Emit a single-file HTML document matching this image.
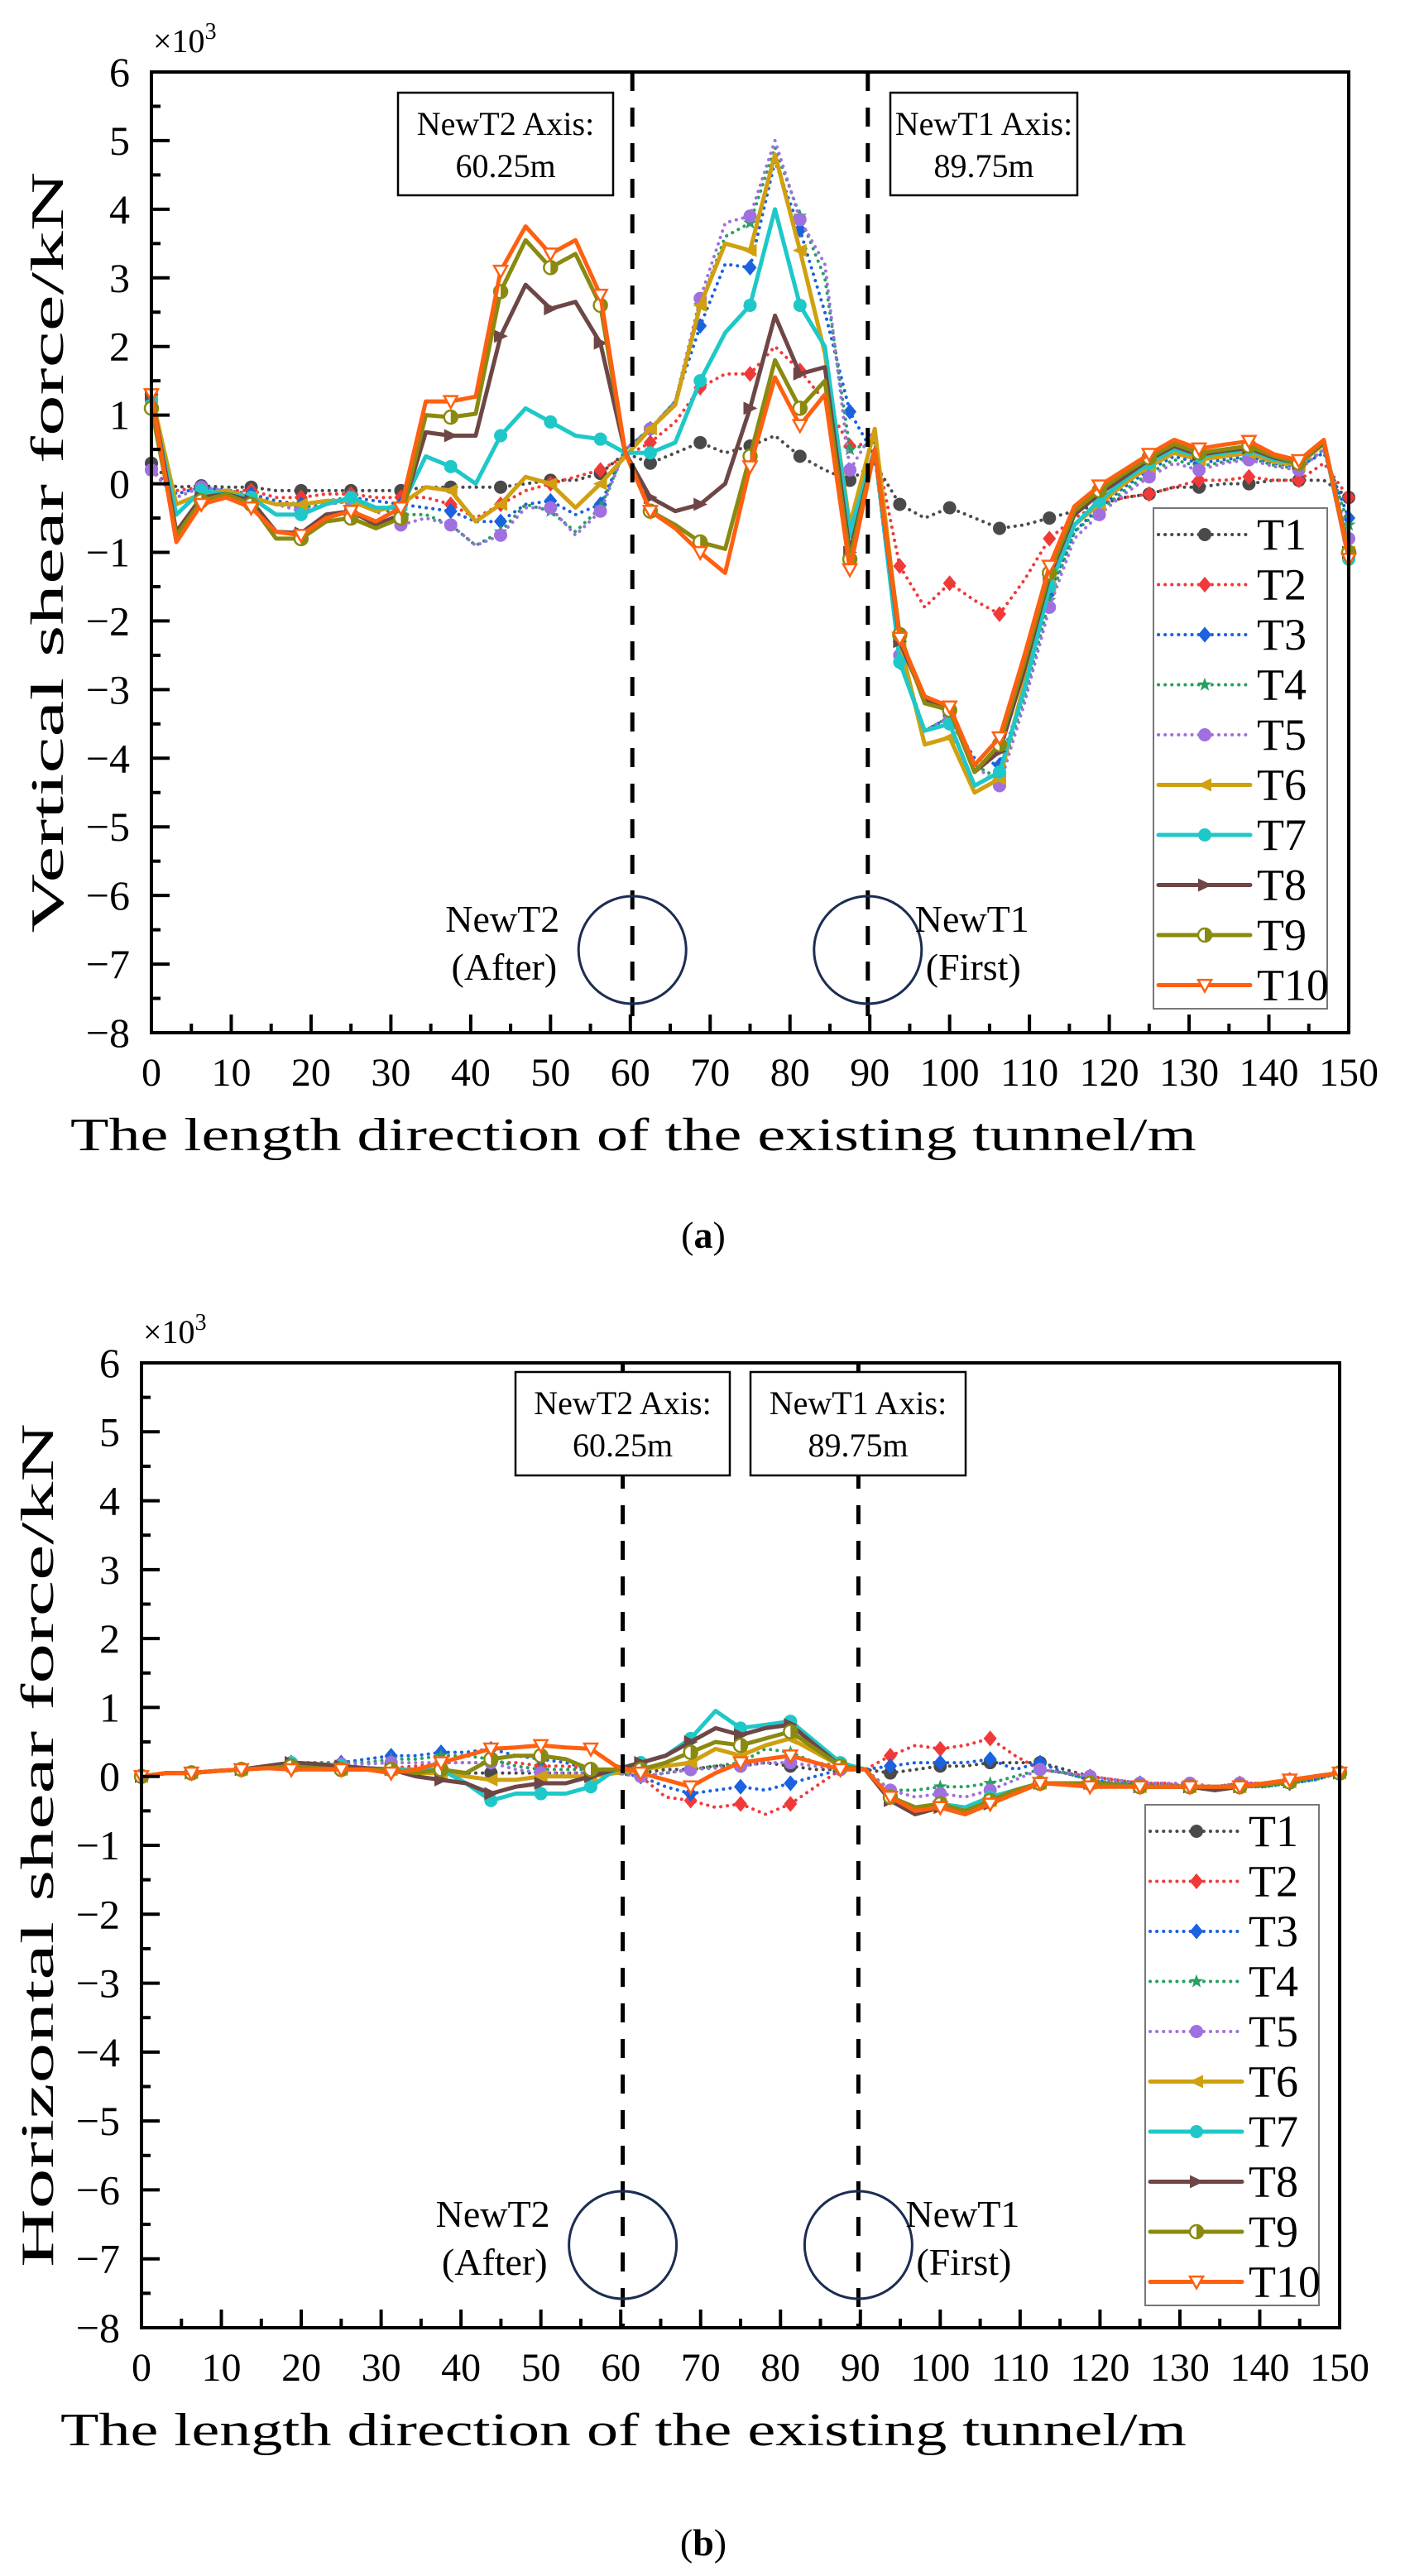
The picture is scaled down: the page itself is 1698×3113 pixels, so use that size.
<!DOCTYPE html>
<html><head><meta charset="utf-8"><style>
html,body{margin:0;padding:0;background:#fff;}
svg{display:block;font-family:"Liberation Serif",serif;}
</style></head><body>
<svg id="fig" width="1698" height="3113" viewBox="0 0 1698 3113" xmlns="http://www.w3.org/2000/svg"></svg>
<script>
// ---------- data (x10^3 kN) ----------
const xStep = 3.125;
const xTicks = [0,10,20,30,40,50,60,70,80,90,100,110,120,130,140,150];
const yTicks = [6,5,4,3,2,1,0,-1,-2,-3,-4,-5,-6,-7,-8];
const seriesNames = ["T1","T2","T3","T4","T5","T6","T7","T8","T9","T10"];

const vT1 = [0.3,-0.05,-0.03,-0.05,-0.05,-0.1,-0.1,-0.1,-0.1,-0.1,-0.1,-0.05,-0.05,-0.05,-0.05,0,0.05,0.05,0.15, 0.45,0.3,0.45,0.6,0.45,0.55,0.7,0.4,0.2,0.05,0.3, -0.3,-0.5,-0.35,-0.5,-0.65,-0.6,-0.5,-0.4,-0.3,-0.2,-0.15,-0.05,-0.05,0,0,0.05,0.05,0.05,-0.2];
const vT2 = [0.2,-0.1,-0.05,-0.1,-0.1,-0.2,-0.2,-0.15,-0.15,-0.2,-0.2, -0.2,-0.3,-0.5,-0.3,-0.1,0,0.1,0.2, 0.4,0.6,0.9,1.4,1.6,1.6,2.0,1.65,1.2,0.55,0.6, -1.2,-1.8,-1.45,-1.7,-1.9,-1.4,-0.8,-0.5,-0.3,-0.2,-0.15,-0.05,0.05,0.05,0.1,0.05,0.05,0.3,-0.2];
const vT3 = [0.2,-0.15,-0.05,-0.1,-0.15,-0.25,-0.3,-0.25,-0.2,-0.25,-0.3, -0.35,-0.4,-0.55,-0.55,-0.3,-0.25,-0.45,-0.3, 0.5,0.8,1.2,2.3,3.2,3.15,4.7,3.7,2.5,1.05,0.4, -2.6,-3.6,-3.4,-4.0,-4.1,-3.0,-1.6,-0.7,-0.35,-0.05,0.2,0.4,0.3,0.35,0.4,0.3,0.25,0.45,-0.5];
const vT4 = [0.2,-0.2,-0.05,-0.1,-0.2,-0.3,-0.35,-0.3,-0.25,-0.35,-0.45, -0.45,-0.6,-0.9,-0.7,-0.3,-0.4,-0.7,-0.35, 0.5,0.8,1.2,2.6,3.6,3.8,4.9,3.9,3.0,0.5,0.6, -2.5,-3.6,-3.4,-4.1,-4.3,-3.1,-1.7,-0.7,-0.4,-0.1,0.15,0.35,0.25,0.32,0.38,0.27,0.22,0.5,-0.6];
const vT5 = [0.2,-0.2,-0.05,-0.1,-0.2,-0.3,-0.4,-0.3,-0.25,-0.4,-0.6, -0.5,-0.6,-0.9,-0.75,-0.35,-0.35,-0.75,-0.4, 0.5,0.8,1.2,2.7,3.8,3.9,5.0,3.85,3.2,0.2,0.8, -2.5,-3.6,-3.4,-4.1,-4.4,-3.2,-1.8,-0.8,-0.45,-0.15,0.1,0.3,0.2,0.3,0.35,0.25,0.2,0.5,-0.8];
const vT6 = [1.3,-0.3,-0.15,-0.1,-0.2,-0.3,-0.3,-0.25,-0.25,-0.4,-0.3, -0.05,-0.1,-0.55,-0.3,0.1,0,-0.35,0, 0.4,0.8,1.15,2.6,3.5,3.4,4.8,3.4,1.9,-0.6,0.8, -2.3,-3.8,-3.7,-4.5,-4.3,-2.9,-1.5,-0.6,-0.3,0.0,0.25,0.45,0.35,0.4,0.45,0.32,0.28,0.58,-1.0];
const vT7 = [1.2,-0.45,-0.1,-0.15,-0.2,-0.45,-0.45,-0.3,-0.2,-0.35,-0.35, 0.4,0.25,0,0.7,1.1,0.9,0.7,0.65, 0.45,0.45,0.6,1.5,2.2,2.6,4.0,2.6,2.0,-0.7,0.5, -2.6,-3.6,-3.5,-4.4,-4.2,-3.0,-1.5,-0.6,-0.25,0.05,0.3,0.5,0.4,0.45,0.5,0.35,0.3,0.6,-1.1];
const vT8 = [1.3,-0.7,-0.2,-0.15,-0.25,-0.7,-0.72,-0.45,-0.4,-0.6,-0.45, 0.75,0.7,0.7,2.15,2.9,2.55,2.65,2.05, 0.45,-0.2,-0.4,-0.3,0,1.1,2.45,1.6,1.7,-1.0,0.5, -2.3,-3.15,-3.3,-4.2,-3.9,-2.7,-1.35,-0.45,-0.15,0.1,0.35,0.55,0.42,0.48,0.52,0.38,0.3,0.6,-1.0];
const vT9 = [1.1,-0.75,-0.25,-0.15,-0.3,-0.8,-0.8,-0.55,-0.5,-0.65,-0.5, 1.0,0.97,1.02,2.8,3.55,3.15,3.35,2.6, 0.45,-0.4,-0.6,-0.85,-0.95,0.4,1.8,1.1,1.5,-1.1,0.5, -2.2,-3.2,-3.3,-4.2,-3.8,-2.6,-1.3,-0.4,-0.1,0.15,0.38,0.58,0.45,0.5,0.55,0.4,0.3,0.62,-1.0];
const vT10 = [1.3,-0.85,-0.3,-0.2,-0.35,-0.7,-0.75,-0.5,-0.4,-0.55,-0.35, 1.2,1.2,1.27,3.1,3.75,3.35,3.55,2.75, 0.45,-0.4,-0.65,-1.0,-1.3,0.25,1.55,0.85,1.3,-1.25,0.5, -2.25,-3.1,-3.25,-4.1,-3.7,-2.5,-1.2,-0.33,-0.03,0.2,0.43,0.64,0.51,0.57,0.62,0.43,0.34,0.64,-1.1];

const hT1 = [0,0.05,0.05,0.08,0.1,0.12,0.15,0.12,0.1,0.1,0.1,0.05,0.05,0.05,0.05,0.05,0.05,0.05,0.05, 0.05,0.05,0.1,0.1,0.15,0.15,0.2,0.15,0.1,0.1,0.1, 0.05,0.1,0.15,0.15,0.2,0.2,0.2,0.1,0,-0.05,-0.1,-0.1,-0.15,-0.15,-0.1,-0.1,-0.05,0,0.05];
const hT2 = [0,0.05,0.05,0.08,0.1,0.12,0.15,0.12,0.1,0.1,0.12,0.15,0.2,0.2,0.2,0.2,0.15,0.15,0.1, 0.05,0,-0.3,-0.35,-0.45,-0.4,-0.55,-0.4,-0.15,0.1,0.1, 0.3,0.45,0.4,0.45,0.55,0.3,0.1,0.05,0,-0.05,-0.1,-0.1,-0.15,-0.15,-0.1,-0.1,-0.05,0,0.05];
const hT3 = [0,0.05,0.05,0.08,0.1,0.15,0.2,0.2,0.2,0.25,0.3,0.3,0.35,0.35,0.4,0.3,0.25,0.2,0.1, 0.05,0,-0.15,-0.25,-0.2,-0.15,-0.2,-0.1,0,0.1,0.1, 0.15,0.2,0.2,0.2,0.25,0.1,0.2,0.05,-0.05,-0.1,-0.1,-0.15,-0.15,-0.2,-0.15,-0.15,-0.1,-0.05,0.05];
const hT4 = [0,0.05,0.05,0.08,0.1,0.15,0.2,0.2,0.2,0.2,0.25,0.25,0.3,0.3,0.25,0.15,0.1,0.1,0.1, 0.05,0,0.05,0.1,0.15,0.2,0.4,0.35,0.2,0.15,0.1, -0.2,-0.2,-0.15,-0.15,-0.1,0,0.1,0.05,-0.05,-0.1,-0.1,-0.15,-0.15,-0.2,-0.15,-0.15,-0.1,-0.05,0.05];
const hT5 = [0,0.05,0.05,0.08,0.1,0.15,0.18,0.18,0.18,0.18,0.2,0.2,0.2,0.2,0.2,0.1,0.05,0.05,0.05, 0.05,0,0.05,0.1,0.12,0.15,0.2,0.2,0.15,0.1,0.1, -0.2,-0.3,-0.25,-0.3,-0.2,-0.05,0.1,0.05,0,-0.05,-0.1,-0.1,-0.1,-0.15,-0.1,-0.1,-0.05,0,0.05];
const hT6 = [0,0.05,0.05,0.08,0.1,0.12,0.15,0.12,0.1,0.1,0.1,0.05,0.05,0,-0.05,-0.05,0,0,0, 0.05,0.1,0.15,0.2,0.4,0.3,0.45,0.55,0.35,0.15,0.1, -0.3,-0.45,-0.4,-0.5,-0.35,-0.25,-0.1,-0.1,-0.1,-0.12,-0.15,-0.15,-0.15,-0.15,-0.15,-0.12,-0.08,0,0.05];
const hT7 = [0,0.05,0.05,0.08,0.1,0.15,0.2,0.18,0.15,0.12,0.1,0.1,0.1,-0.1,-0.35,-0.25,-0.25,-0.25,-0.15, 0.1,0.2,0.3,0.55,0.95,0.7,0.75,0.8,0.5,0.2,0.1, -0.3,-0.45,-0.4,-0.45,-0.3,-0.2,-0.1,-0.1,-0.1,-0.12,-0.15,-0.15,-0.15,-0.2,-0.15,-0.12,-0.08,0,0.05];
const hT8 = [0,0.05,0.05,0.08,0.1,0.15,0.2,0.18,0.15,0.12,0.1,0,-0.05,-0.1,-0.25,-0.15,-0.1,-0.1,0, 0.1,0.2,0.3,0.5,0.7,0.6,0.7,0.75,0.45,0.15,0.1, -0.35,-0.55,-0.45,-0.55,-0.4,-0.2,-0.1,-0.1,-0.1,-0.12,-0.15,-0.15,-0.15,-0.2,-0.15,-0.12,-0.08,0,0.05];
const hT9 = [0,0.05,0.05,0.08,0.1,0.12,0.15,0.12,0.1,0.1,0.1,0.05,0.1,0.05,0.25,0.3,0.3,0.25,0.1, 0.1,0.1,0.2,0.35,0.5,0.45,0.55,0.65,0.4,0.15,0.1, -0.3,-0.45,-0.4,-0.5,-0.35,-0.2,-0.1,-0.1,-0.1,-0.12,-0.15,-0.15,-0.15,-0.15,-0.15,-0.12,-0.08,0,0.05];
const hT10 = [0,0.05,0.05,0.08,0.1,0.12,0.1,0.1,0.1,0.1,0.05,0.1,0.2,0.3,0.4,0.42,0.45,0.42,0.4, 0.15,0.05,-0.05,-0.15,0.05,0.2,0.25,0.3,0.2,0.1,0.1, -0.3,-0.5,-0.45,-0.55,-0.4,-0.25,-0.1,-0.12,-0.15,-0.15,-0.15,-0.15,-0.15,-0.15,-0.15,-0.1,-0.05,0,0.05];

const verticalData = [vT1,vT2,vT3,vT4,vT5,vT6,vT7,vT8,vT9,vT10];
const horizontalData = [hT1,hT2,hT3,hT4,hT5,hT6,hT7,hT8,hT9,hT10];

// ---------- styles ----------
const colors = ["#4a4a4a","#f03a3a","#1a62e0","#27a060","#a070e0","#d0a010","#1fc8c8","#6e4646","#8a8a10","#ff6010"];
const markers = ["circle","diamond","diamond","star","circle","tri-left","circle","tri-right","half","tri-down"];
const dotted = [true,true,true,true,true,false,false,false,false,false];

const NS = "http://www.w3.org/2000/svg";
const svg = document.getElementById("fig");
function mk(tag, attrs, parent, text){
  const e = document.createElementNS(NS, tag);
  for (const k in attrs) e.setAttribute(k, attrs[k]);
  if (text !== undefined) e.textContent = text;
  (parent||svg).appendChild(e);
  return e;
}

function drawMarker(g, type, cx, cy, color, r){
  let e;
  if (type==="circle"){ e = mk("circle",{cx:cx,cy:cy,r:r,fill:color},g); }
  else if (type==="diamond"){ e = mk("polygon",{points:`${cx},${cy-r*1.2} ${cx+r},${cy} ${cx},${cy+r*1.2} ${cx-r},${cy}`,fill:color},g); }
  else if (type==="star"){
    let p=[]; for(let k=0;k<10;k++){const a=-Math.PI/2+k*Math.PI/5; const rr=k%2?r*0.45:r*1.1; p.push((cx+rr*Math.cos(a)).toFixed(1)+","+(cy+rr*Math.sin(a)).toFixed(1));}
    e = mk("polygon",{points:p.join(" "),fill:color},g);
  }
  else if (type==="tri-left"){ e = mk("polygon",{points:`${cx-r*1.1},${cy} ${cx+r},${cy-r} ${cx+r},${cy+r}`,fill:color},g); }
  else if (type==="tri-right"){ e = mk("polygon",{points:`${cx+r*1.1},${cy} ${cx-r},${cy-r} ${cx-r},${cy+r}`,fill:color},g); }
  else if (type==="half"){
    e = mk("circle",{cx:cx,cy:cy,r:r,fill:"#fff",stroke:color,"stroke-width":2.5},g);
    mk("path",{d:`M${cx},${cy-r} A${r},${r} 0 0 1 ${cx},${cy+r} Z`,fill:color},g);
  }
  else if (type==="tri-down"){ e = mk("polygon",{points:`${cx-r},${cy-r*0.8} ${cx+r},${cy-r*0.8} ${cx},${cy+r}`,fill:"#fff",stroke:color,"stroke-width":2.5},g); }
  return e;
}

// scale a text element horizontally (in its own frame) to a target length
function fitText(el, target){
  const w = el.getComputedTextLength();
  return w > 0 ? target / w : 1;
}

function drawChart(cfg){
  const {L,T,R,B,data,ytitle,tag} = cfg;
  const xs = v => L + (v-0)/(150-0)*(R-L);
  const ys = v => T + (6-v)/(6-(-8))*(B-T);
  const chart = mk("g",{});
  
  

  const sg = mk("g",{},chart);
  
  
  data.forEach((vals,si)=>{
    const g = mk("g",{},sg);
    
    
    const pts = vals.map((v,i)=>xs(i*xStep).toFixed(1)+","+ys(v).toFixed(1)).join(" ");
    const line = mk("polyline",{points:pts,fill:"none",stroke:colors[si],"stroke-width":dotted[si]?4:5,"stroke-linejoin":"round","stroke-linecap":"round","stroke-dasharray":dotted[si]?"0.1 8":"none"},g);
    
    
    vals.forEach((v,i)=>{
      if (i%2!==0) return;
      const m = drawMarker(g, markers[si], xs(i*xStep), ys(v), colors[si], 8);
      
      
    });
  });

  const frame = mk("rect",{x:L,y:T,width:R-L,height:B-T,fill:"none",stroke:"#000","stroke-width":4},chart);
  
  

  const xg = mk("g",{},chart);
  
  
  for (let v=0; v<=150; v+=5){
    const major = v%10===0;
    mk("line",{x1:xs(v),x2:xs(v),y1:B,y2:B-(major?22:11),stroke:"#000","stroke-width":4},xg);
  }
  xTicks.forEach(v=>{
    const t = mk("text",{x:xs(v),y:B+64,"text-anchor":"middle","font-size":48},xg,String(v));
    
    
  });
  const xt = mk("text",{x:0,y:0,"font-size":56},xg,"The length direction of the existing tunnel/m");
  
  
  const sx = fitText(xt, 1361);
  xt.setAttribute("transform", `translate(${L-98},${B+142}) scale(${sx},1)`);

  const yg = mk("g",{},chart);
  
  
  for (let v=-8; v<=6; v+=0.5){
    const major = Math.abs(v%1)<1e-9;
    mk("line",{x1:L,x2:L+(major?22:11),y1:ys(v),y2:ys(v),stroke:"#000","stroke-width":4},yg);
  }
  yTicks.forEach(v=>{
    const t = mk("text",{x:L-26,y:ys(v)+17,"text-anchor":"end","font-size":50},yg,v<0?"\u2212"+Math.abs(v):String(v));
    
    
  });
  const ex = mk("text",{x:L+2,y:T-24,"font-size":40},yg);
  
  
  mk("tspan",{},ex,"\u00d710");
  mk("tspan",{dy:-16,"font-size":28},ex,"3");
  const cy = (T+B)/2 + cfg.ytOff;
  const yt = mk("text",{x:0,y:0,"text-anchor":"middle","font-size":56},yg,ytitle);
  
  
  const sy = fitText(yt, cfg.ytLen);
  yt.setAttribute("transform", `translate(${cfg.ytX},${cy}) rotate(-90) scale(${sy},1)`);

  [60.25,89.75].forEach((m,k)=>{
    const d = mk("line",{x1:xs(m),x2:xs(m),y1:T,y2:B,stroke:"#000","stroke-width":5,"stroke-dasharray":"23 20"},chart);
    
    
  });

  cfg.boxes.forEach(b=>{
    const g = mk("g",{},chart);
    
    
    mk("rect",{x:b.x1,y:b.y1,width:b.x2-b.x1,height:b.y2-b.y1,fill:"#fff",stroke:"#000","stroke-width":2.5},g);
    const cx=(b.x1+b.x2)/2;
    mk("text",{x:cx,y:b.y1+51,"text-anchor":"middle","font-size":40},g,b.l1);
    mk("text",{x:cx,y:b.y1+102,"text-anchor":"middle","font-size":40},g,b.l2);
  });

  const ccy = B-100;
  [[60.25,"NewT2","(After)","end",-88],[89.75,"NewT1","(First)","start",57]].forEach(([m,a,b,anc,off])=>{
    const g = mk("g",{},chart);
    
    
    mk("ellipse",{cx:xs(m),cy:ccy,rx:65,ry:65,fill:"none",stroke:"#1c2d52","stroke-width":3},g);
    mk("text",{x:xs(m)+off,y:ccy-22,"text-anchor":anc,"font-size":46},g,a);
    mk("text",{x:xs(m)+off+(anc==="start"?13:-3),y:ccy+36,"text-anchor":anc,"font-size":46},g,b);
  });

  const lg = mk("g",{},chart);
  
  
  const lx=cfg.legX, ly=cfg.legY;
  mk("rect",{x:lx,y:ly,width:210,height:605,fill:"#fff",stroke:"#777","stroke-width":2},lg);
  seriesNames.forEach((n,si)=>{
    const e = mk("g",{},lg);
    
    
    const y = ly+32+si*60.5;
    mk("line",{x1:lx+6,x2:lx+117,y1:y,y2:y,stroke:colors[si],"stroke-width":dotted[si]?4:5,"stroke-linecap":"round","stroke-dasharray":dotted[si]?"0.1 8":"none"},e);
    drawMarker(e, markers[si], lx+62, y, colors[si], 8);
    mk("text",{x:lx+125,y:y+18,"font-size":54},e,n);
  });

  const cap = mk("text",{x:850,y:cfg.capY,"text-anchor":"middle","font-size":46},chart);
  
  
  mk("tspan",{},cap,"(");
  mk("tspan",{"font-weight":"bold"},cap,tag);
  mk("tspan",{},cap,")");
}

drawChart({L:183,T:87,R:1630,B:1248,data:verticalData,ytitle:"Vertical shear force/kN",tag:"a",ytX:76,ytOff:0,ytLen:920,
  legX:1394,legY:614,capY:1508,
  boxes:[{name:"newt2-axis-label",x1:481,x2:741,y1:112,y2:236,l1:"NewT2 Axis:",l2:"60.25m"},
         {name:"newt1-axis-label",x1:1076,x2:1302,y1:112,y2:236,l1:"NewT1 Axis:",l2:"89.75m"}]});
drawChart({L:171,T:1647,R:1619,B:2813,data:horizontalData,ytitle:"Horizontal shear force/kN",tag:"b",ytX:64,ytOff:0,ytLen:1020,
  legX:1384,legY:2181,capY:3088,
  boxes:[{name:"newt2-axis-label",x1:623,x2:882,y1:1658,y2:1783,l1:"NewT2 Axis:",l2:"60.25m"},
         {name:"newt1-axis-label",x1:907,x2:1167,y1:1658,y2:1783,l1:"NewT1 Axis:",l2:"89.75m"}]});
</script>
</body></html>
